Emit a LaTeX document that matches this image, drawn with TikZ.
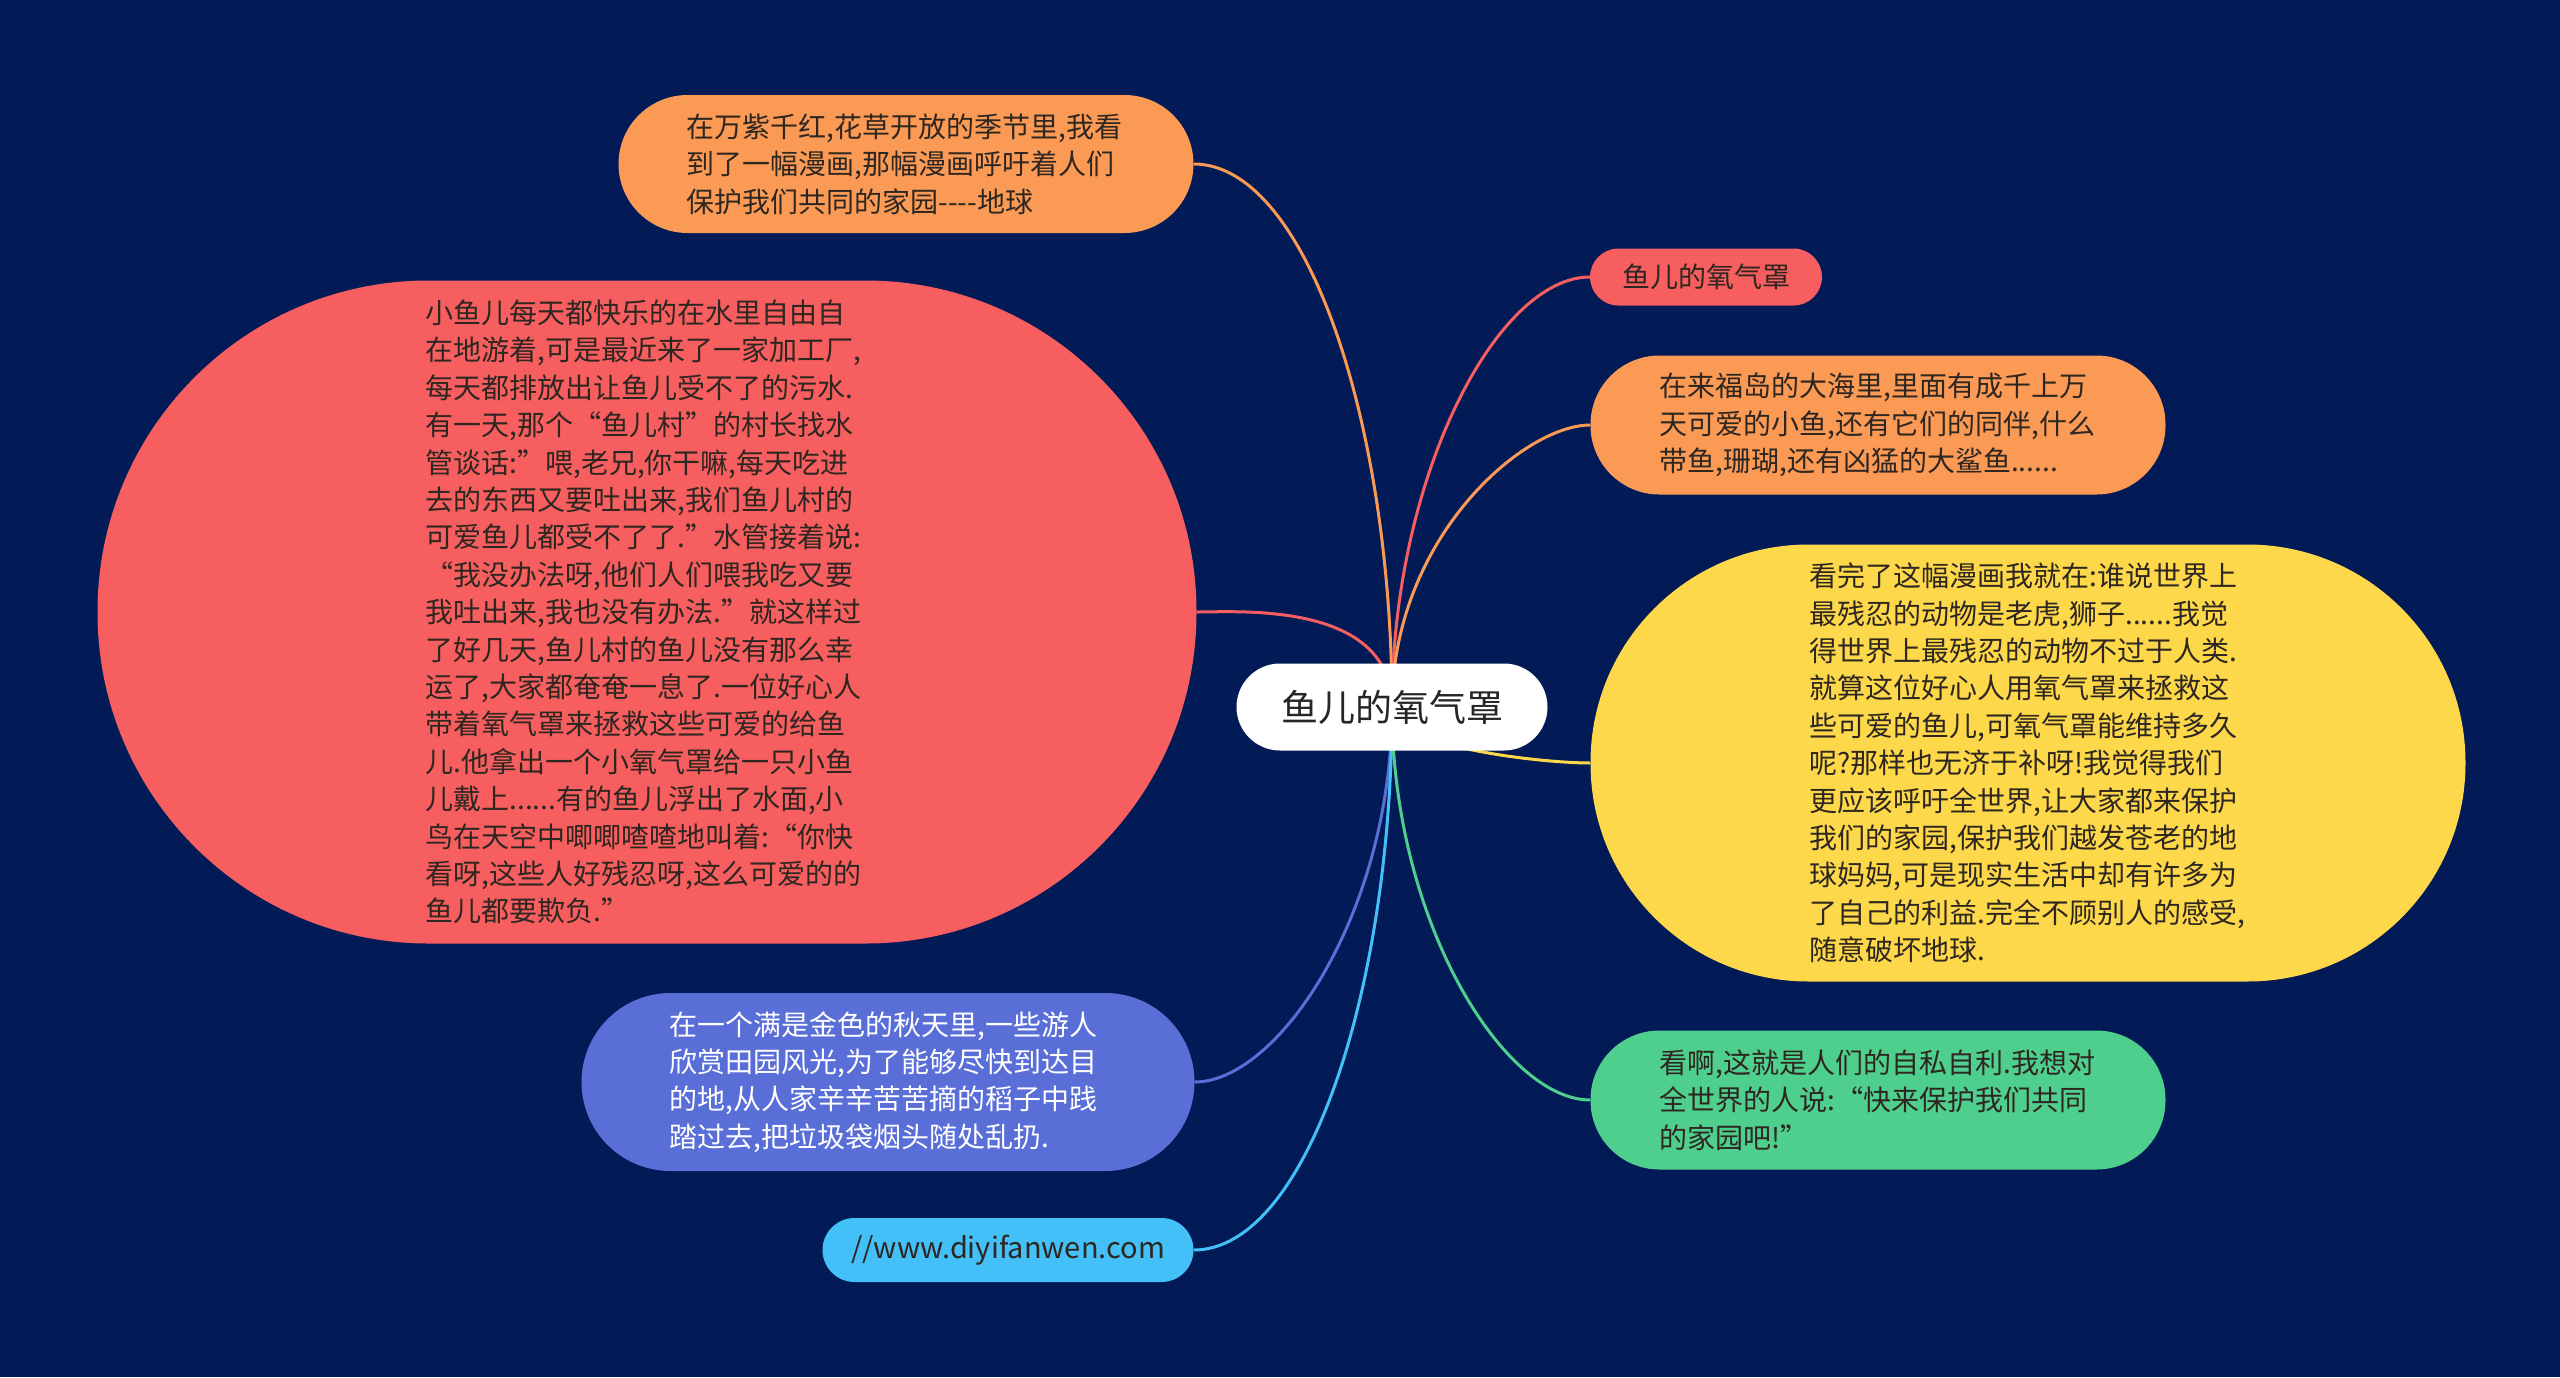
\documentclass[tikz,border=0pt]{standalone}
\usepackage{fontspec}
\setmainfont{Noto Sans CJK SC}
\usepackage{tikz}
\usetikzlibrary{backgrounds}
\definecolor{navy}{HTML}{021A56}
\definecolor{peach}{HTML}{FA9A55}
\definecolor{coral}{HTML}{F65E5F}
\definecolor{sun}{HTML}{FDD84A}
\definecolor{mint}{HTML}{4ECF8E}
\definecolor{iris}{HTML}{5A6ED7}
\definecolor{sky}{HTML}{43C0F7}
\definecolor{ink}{HTML}{2E2620}
\tikzset{
  pill/.style={inner sep=0pt, text=ink, font=\fontsize{28pt}{37.4pt}\selectfont},
  leaf/.style={pill, align=left},
  hubbox/.style={pill, fill=white, text=black!85, minimum width=311pt, minimum height=87pt,
    rounded corners=43.5pt, font=\fontsize{37pt}{44pt}\selectfont},
  flow/.style={draw=#1, line width=3pt},
  up/.style={out=90, out looseness=1.25, in looseness=.5},
  down/.style={out=-90, out looseness=1.25, in looseness=.5},
}

\begin{document}
\begin{tikzpicture}[x=1pt, y=1pt]
\useasboundingbox (0,0) rectangle (2560,-1377);
\node[hubbox] (hub) at (1392,-707) {鱼儿的氧气罩};
\node[leaf, fill=peach, minimum width=575pt, minimum height=138pt, rounded corners=69pt, text width=439pt]
  (top) at (906,-164) {在万紫千红,花草开放的季节里,我看\\到了一幅漫画,那幅漫画呼吁着人们\\保护我们共同的家园-{}-{}-{}-地球};
\node[leaf, fill=coral, minimum width=1099pt, minimum height=663pt, rounded corners=331pt, text width=443pt]
  (fish) at (647,-612) {小鱼儿每天都快乐的在水里自由自\\在地游着,可是最近来了一家加工厂,\\每天都排放出让鱼儿受不了的污水.\\有一天,那个“鱼儿村”的村长找水\\管谈话:”喂,老兄,你干嘛,每天吃进\\去的东西又要吐出来,我们鱼儿村的\\可爱鱼儿都受不了了.”水管接着说:\\“我没办法呀,他们人们喂我吃又要\\我吐出来,我也没有办法.”就这样过\\了好几天,鱼儿村的鱼儿没有那么幸\\运了,大家都奄奄一息了.一位好心人\\带着氧气罩来拯救这些可爱的给鱼\\儿.他拿出一个小氧气罩给一只小鱼\\儿戴上......有的鱼儿浮出了水面,小\\鸟在天空中唧唧喳喳地叫着:“你快\\看呀,这些人好残忍呀,这么可爱的的\\鱼儿都要欺负.”};
\node[pill, fill=coral, minimum width=232pt, minimum height=57pt, rounded corners=28.5pt]
  (title) at (1706,-277) {鱼儿的氧气罩};
\node[leaf, fill=peach, minimum width=575pt, minimum height=139pt, rounded corners=69pt, text width=437pt]
  (sea) at (1878,-425) {在来福岛的大海里,里面有成千上万\\天可爱的小鱼,还有它们的同伴,什么\\带鱼,珊瑚,还有凶猛的大鲨鱼......};
\node[leaf, fill=sun, minimum width=875pt, minimum height=437pt, rounded corners=218pt, text width=437pt]
  (view) at (2028,-763) {看完了这幅漫画我就在:谁说世界上\\最残忍的动物是老虎,狮子......我觉\\得世界上最残忍的动物不过于人类.\\就算这位好心人用氧气罩来拯救这\\些可爱的鱼儿,可氧气罩能维持多久\\呢?那样也无济于补呀!我觉得我们\\更应该呼吁全世界,让大家都来保护\\我们的家园,保护我们越发苍老的地\\球妈妈,可是现实生活中却有许多为\\了自己的利益.完全不顾别人的感受,\\随意破坏地球.};
\node[leaf, fill=mint, minimum width=575pt, minimum height=139pt, rounded corners=69pt, text width=437pt]
  (call) at (1878,-1100) {看啊,这就是人们的自私自利.我想对\\全世界的人说:“快来保护我们共同\\的家园吧!”};
\node[leaf, fill=iris, text=white, minimum width=613pt, minimum height=178pt, rounded corners=89pt, text width=437pt]
  (field) at (888,-1082) {在一个满是金色的秋天里,一些游人\\欣赏田园风光,为了能够尽快到达目\\的地,从人家辛辛苦苦摘的稻子中践\\踏过去,把垃圾袋烟头随处乱扔.};
\node[pill, fill=sky, minimum width=371pt, minimum height=64pt, rounded corners=32pt, font=\fontsize{29pt}{36pt}\selectfont]
  (link) at (1008,-1250) {//www.diyifanwen.com};
\begin{scope}[on background layer]
\fill[navy] (0,0) rectangle (2560,-1377);
\draw[flow=peach] (hub.center) to[up, in=0] (top.east);
\draw[flow=coral] (hub.center) to[up, in=0] (fish.east);
\draw[flow=iris] (hub.center) to[down, in=0] (field.east);
\draw[flow=sky] (hub.center) to[down, in=0] (link.east);
\draw[flow=coral] (hub.center) to[up, in=180] (title.west);
\draw[flow=peach] (hub.center) to[up, in=180] (sea.west);
\draw[flow=sun] (hub.center) to[out=-90, in=180, out looseness=.5, in looseness=.6] (view.west);
\draw[flow=mint] (hub.center) to[down, in=180] (call.west);
\end{scope}
\end{tikzpicture}
\end{document}
